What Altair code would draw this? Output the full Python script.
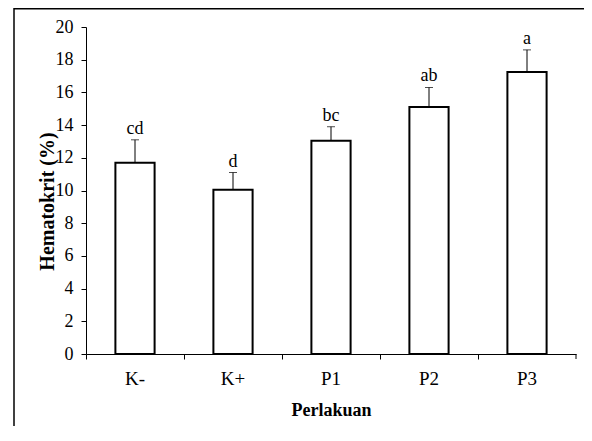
import altair as alt
import pandas as pd

categories = ["K-", "K+", "P1", "P2", "P3"]
means = [11.7, 10.05, 13.05, 15.1, 17.25]
errors = [1.4, 1.05, 0.85, 1.2, 1.35]
letters = ["cd", "d", "bc", "ab", "a"]
y_ticks = [0, 2, 4, 6, 8, 10, 12, 14, 16, 18, 20]

df = pd.DataFrame({
    "cat": categories,
    "mean": means,
    "upper": [m + e for m, e in zip(means, errors)],
    "letter": letters,
})

W, H = 490, 327
FONT = "Liberation Serif"

x_axis = alt.Axis(
    title="Perlakuan", labelAngle=0, bandPosition=0,
    labelFontSize=19, labelPadding=10,
    titleFontSize=18, titleBaseline="alphabetic", titleY=61,
)
y_axis = alt.Axis(
    title="Hematokrit (%)", values=y_ticks, grid=False, labelOverlap=False,
    labelFontSize=18, labelPadding=8,
    titleFontSize=20, titleAngle=-90, titleBaseline="alphabetic",
    titleAlign="center", titleX=-33, titleY=174,
)
x_scale = alt.Scale(paddingInner=0, paddingOuter=0)
y_scale = alt.Scale(domain=[0, 20], nice=False)

def xe():
    return alt.X("cat:N", sort=categories, scale=x_scale, axis=x_axis)

def ye(field):
    return alt.Y(field + ":Q", scale=y_scale, axis=y_axis)

base = alt.Chart(df)

bars = base.mark_bar(
    fill="white", stroke="black", strokeWidth=2, width=alt.RelativeBandSize(0.4)
).encode(x=xe(), y=ye("mean"))

err = base.mark_rule(color="black", strokeWidth=1).encode(
    x=xe(), y=ye("mean"), y2="upper:Q"
)
caps = base.mark_tick(color="black", thickness=1, size=8).encode(
    x=xe(), y=ye("upper")
)
labels = base.mark_text(
    font=FONT, fontSize=18, color="black", baseline="alphabetic", dy=-6
).encode(x=xe(), y=ye("upper"), text="letter:N")

end_tick = alt.Chart(pd.DataFrame({"a": [0]})).mark_rule(color="black", strokeWidth=1).encode(
    x=alt.value(W), y=alt.value(H), y2=alt.value(H + 5)
)
frame_left = alt.Chart(pd.DataFrame({"a": [0]})).mark_rule(color="black", strokeWidth=1.5).encode(
    x=alt.value(-72), y=alt.value(-19), y2=alt.value(H + 80)
)
frame_top = alt.Chart(pd.DataFrame({"a": [0]})).mark_rule(color="black", strokeWidth=1.5).encode(
    x=alt.value(-72), x2=alt.value(W + 10), y=alt.value(-18.2)
)

chart = alt.layer(bars, err, caps, labels, end_tick, frame_left, frame_top).properties(
    width=W, height=H,
    padding={"left": 78, "top": 19, "right": 8, "bottom": 72},
    autosize=alt.AutoSizeParams(type="none"),
    background="white",
).configure_view(stroke=None).configure_axis(
    labelFont=FONT, titleFont=FONT, labelColor="black", titleColor="black",
    titleFontWeight="bold", domainColor="black", tickColor="black",
    tickSize=5, domainWidth=1, grid=False,
)

chart.save("out.html", embed_options={"renderer": "svg", "actions": False})
